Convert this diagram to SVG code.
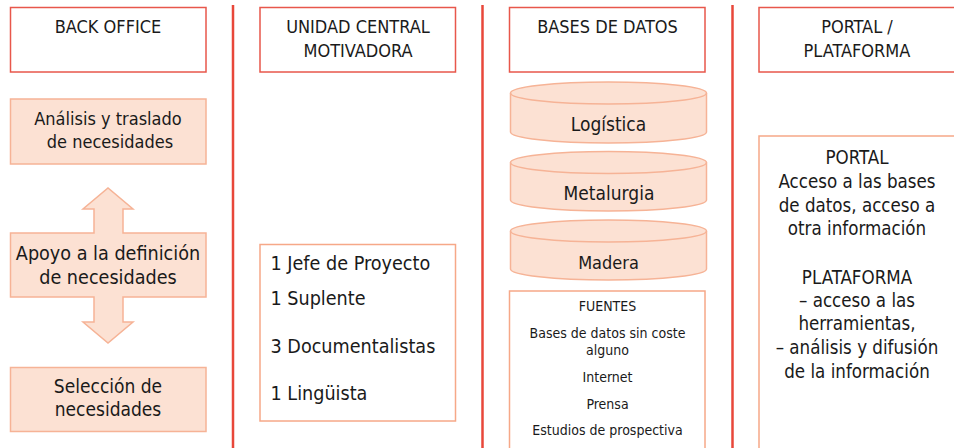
<svg xmlns="http://www.w3.org/2000/svg" width="954" height="448" viewBox="0 0 954 448">
<style>
text{font-family:"DejaVu Sans Condensed","DejaVu Sans","Liberation Sans",sans-serif;font-size:18px;fill:#1a1a1a}
.c{text-anchor:middle}
.s{font-size:14px}
.m{font-size:19px}
.l{font-size:19.6px}
.p{font-size:18.6px}
.hdr{fill:#fff;stroke:#e8574b;stroke-width:1.5}
.box{fill:#fce1d3;stroke:#f6b396;stroke-width:1.5}
.wbox{fill:#fff;stroke:#f6a888;stroke-width:1.5}
.div{stroke:#e8473a;stroke-width:2.5}
</style>
<g id="dividers">
<line class="div" x1="233" y1="5" x2="233" y2="448"/>
<line class="div" x1="482.5" y1="5" x2="482.5" y2="448"/>
<line class="div" x1="732.5" y1="5" x2="732.5" y2="448"/>
</g>
<g id="back-office">
<rect class="hdr" x="10.5" y="7.5" width="195.5" height="64.5"/>
<text class="c" x="108" y="33">BACK OFFICE</text>
</g>
<g id="analisis">
<rect class="box" x="10.5" y="99" width="195.5" height="65"/>
<text class="c" x="108" y="125">Análisis y traslado</text>
<text class="c" x="110" y="148">de necesidades</text>
</g>
<g id="apoyo">
<polygon class="box" points="10.5,233 94,233 94,209 83,209 108,188 133,209 123,209 123,233 206,233 206,297 123,297 123,322 133,322 108,343 83,322 94,322 94,297 10.5,297"/>
<text class="c l" x="108" y="260">Apoyo a la definición</text>
<text class="c l" x="108" y="284">de necesidades</text>
</g>
<g id="seleccion">
<rect class="box" x="10.5" y="367.5" width="195.5" height="64"/>
<text class="c m" x="108" y="393">Selección de</text>
<text class="c m" x="108" y="416">necesidades</text>
</g>
<g id="unidad-central">
<rect class="hdr" x="260" y="7.5" width="195.5" height="64.5"/>
<text class="c" x="358" y="33">UNIDAD CENTRAL</text>
<text class="c" x="358" y="57">MOTIVADORA</text>
</g>
<g id="equipo">
<rect class="wbox" x="260" y="244.5" width="195.5" height="176.5"/>
<text class="l" x="270.5" y="269.5">1 Jefe de Proyecto</text>
<text class="l" x="270.5" y="305">1 Suplente</text>
<text class="l" x="270.5" y="352.5">3 Documentalistas</text>
<text class="l" x="270.5" y="400">1 Lingüista</text>
</g>
<g id="bases-datos">
<rect class="hdr" x="509.5" y="7.5" width="195.5" height="64.5"/>
<text class="c" x="607.5" y="33">BASES DE DATOS</text>
</g>
<g id="logistica">
<path class="box" d="M510.5,93 A98,11 0 0 1 706.5,93 L706.5,132 A98,11 0 0 1 510.5,132 Z"/>
<path d="M510.5,93 A98,11 0 0 0 706.5,93" fill="none" stroke="#f6b396" stroke-width="1.5"/>
<text class="c m" x="608.5" y="131">Logística</text>
</g>
<g id="metalurgia">
<path class="box" d="M510.5,162.5 A98,11 0 0 1 706.5,162.5 L706.5,200 A98,11 0 0 1 510.5,200 Z"/>
<path d="M510.5,162.5 A98,11 0 0 0 706.5,162.5" fill="none" stroke="#f6b396" stroke-width="1.5"/>
<text class="c m" x="609" y="200">Metalurgia</text>
</g>
<g id="madera">
<path class="box" d="M510.5,231 A98,11 0 0 1 706.5,231 L706.5,269 A98,11 0 0 1 510.5,269 Z"/>
<path d="M510.5,231 A98,11 0 0 0 706.5,231" fill="none" stroke="#f6b396" stroke-width="1.5"/>
<text class="c" x="608.5" y="268.5">Madera</text>
</g>
<g id="fuentes">
<rect class="wbox" x="509.5" y="291" width="195.5" height="160"/>
<text class="c s" x="607.5" y="311">FUENTES</text>
<text class="c s" x="607.5" y="337.5">Bases de datos sin coste</text>
<text class="c s" x="607.5" y="355">alguno</text>
<text class="c s" x="607.5" y="382">Internet</text>
<text class="c s" x="607.5" y="408.5">Prensa</text>
<text class="c s" x="607.5" y="434.5">Estudios de prospectiva</text>
</g>
<g id="portal-plataforma">
<rect class="hdr" x="759" y="7.5" width="200" height="64.5"/>
<text class="c" x="857" y="33">PORTAL /</text>
<text class="c" x="857" y="57">PLATAFORMA</text>
</g>
<g id="portal">
<rect class="wbox" x="759" y="136" width="200" height="320"/>
<text class="c p" x="857" y="164">PORTAL</text>
<text class="c p" x="857" y="188">Acceso a las bases</text>
<text class="c p" x="857" y="211.5">de datos, acceso a</text>
<text class="c p" x="857" y="235">otra información</text>
<text class="c p" x="857" y="283.5">PLATAFORMA</text>
<text class="c p" x="857" y="307">– acceso a las</text>
<text class="c p" x="857" y="330">herramientas,</text>
<text class="c p" x="857" y="353.5">– análisis y difusión</text>
<text class="c p" x="857" y="378">de la información</text>
</g>
</svg>
